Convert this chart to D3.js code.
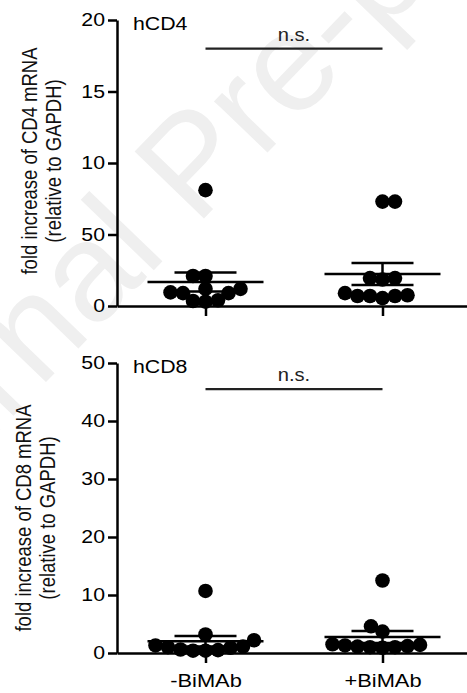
<!DOCTYPE html>
<html>
<head>
<meta charset="utf-8">
<script src="https://cdn.jsdelivr.net/npm/d3@7"></script>
<style>
  body { margin: 0; background: #fff; }
  svg { display: block; font-family: "Liberation Sans", Arial, Helvetica, sans-serif; }
</style>
</head>
<body>
<svg id="chart" width="467" height="693"></svg>
<script>
// values
var groups = ['-BiMAb', '+BiMAb'];
var cd4_minus = [8.1, 2.1, 2.1, 1.2, 1.2, 0.95, 0.9, 0.9, 0.4, 0.35, 0.3];
var cd4_plus = [7.3, 7.3, 1.95, 1.95, 1.85, 0.9, 0.75, 0.7, 0.7, 0.7, 0.55];
var cd8_minus = [10.7, 3.2, 2.2, 1.3, 1.1, 1.0, 0.9, 0.6, 0.5, 0.4, 0.4];
var cd8_plus = [12.5, 4.6, 3.7, 1.5, 1.4, 1.3, 1.2, 1.1, 1.0, 1.0, 0.9];
var cd4_ticks = [0, 5, 10, 15, 20];
var cd4_tick_labels = ['0', '50', '10', '15', '20'];
var cd8_ticks = [0, 10, 20, 30, 40, 50];
var cd8_tick_labels = ['0', '10', '20', '30', '40', '50'];
var panel_titles = ['hCD4', 'hCD8'];
var y_titles = [
    ['fold increase of CD4 mRNA', '(relative to GAPDH)'],
    ['fold increase of CD8 mRNA', '(relative to GAPDH)']
];
var sig_labels = ['n.s.', 'n.s.'];
var sig_values = [18, 45.5];

var sx = 1.15; // the figure's lettering is a bit wide
var dot_r = 7.3;

var svg = d3.select('#chart');

// faint watermark behind everything
svg.append('text')
    .attr('transform', 'translate(-150,585) rotate(-46)')
    .attr('font-size', 140)
    .attr('fill', '#efefef')
    .text('Journal Pre-proof');

var x = d3.scalePoint().domain(groups).range([117, 471]).padding(0.5);

var panels = [
    {series: [cd4_minus, cd4_plus], ticks: cd4_ticks, labels: cd4_tick_labels,
        domain: [0, 20], range: [306, 20], title_x: 37, title_y: 161, show_x: false},
    {series: [cd8_minus, cd8_plus], ticks: cd8_ticks, labels: cd8_tick_labels,
        domain: [0, 50], range: [653, 363], title_x: 31, title_y: 518, show_x: true}
];

// simple beeswarm: lowest values first, nearest free slot to the centre
function swarm(values, y, cx, min_dist) {
    var pts = values.map(function (v) { return {v: v, y: y(v)}; });
    pts.sort(function (a, b) { return b.y - a.y; });
    var placed = [];
    pts.forEach(function (p, i) {
        var sign = i % 2 ? -1 : 1;
        for (var k = 0; k < 400; k++) {
            var off = Math.ceil(k / 2) * 0.5 * (k % 2 ? sign : -sign);
            var ok = placed.every(function (q) {
                var dx = cx + off - q.x, dy = p.y - q.y;
                return dx * dx + dy * dy >= min_dist * min_dist;
            });
            if (ok) { p.x = cx + off; break; }
        }
        placed.push(p);
    });
    return placed;
}

panels.forEach(function (pn, pi) {
    var y = d3.scaleLinear().domain(pn.domain).range(pn.range);
    var g = svg.append('g');

    // y axis
    var ya = g.append('g')
        .attr('transform', 'translate(117,0)')
        .call(d3.axisLeft(y).tickValues(pn.ticks).tickSize(9).tickSizeOuter(0)
            .tickFormat(function (d, i) { return pn.labels[i]; }));
    ya.select('.domain').attr('stroke-width', 2.5).attr('stroke', '#000');
    ya.selectAll('.tick line').attr('stroke-width', 2.5).attr('stroke', '#000');
    ya.selectAll('.tick text')
        .attr('x', -12 / sx)
        .attr('transform', 'scale(' + sx + ',1)')
        .attr('font-size', 18.5)
        .attr('fill', '#000')
        .attr('font-family', null);

    // x axis
    var xa = g.append('g')
        .attr('transform', 'translate(0,' + pn.range[0] + ')')
        .call(d3.axisBottom(x).tickSize(10).tickSizeOuter(0));
    xa.select('.domain').attr('stroke-width', 2.5).attr('stroke', '#000');
    xa.selectAll('.tick line').attr('stroke-width', 2.5).attr('stroke', '#000');
    if (pn.show_x) {
        xa.selectAll('.tick text')
            .attr('y', 34).attr('dy', 0)
            .attr('transform', 'scale(' + sx + ',1)')
            .attr('font-size', 19)
            .attr('fill', '#000')
            .attr('font-family', null);
    } else {
        xa.selectAll('.tick text').remove();
    }

    // panel label
    g.append('text')
        .attr('transform', 'translate(133,' + (pn.range[1] + 10) + ') scale(' + sx + ',1)')
        .attr('font-size', 18.5)
        .attr('fill', '#000')
        .text(panel_titles[pi]);

    // y title, two lines
    var yt = g.append('text')
        .attr('transform', 'translate(' + pn.title_x + ',' + pn.title_y + ') scale(' + sx + ',1) rotate(-90)')
        .attr('text-anchor', 'middle')
        .attr('font-size', 18.5)
        .attr('fill', '#111');
    yt.selectAll('tspan').data(y_titles[pi]).enter().append('tspan')
        .attr('x', 0)
        .attr('y', function (d, i) { return i * 21; })
        .text(function (d) { return d; });

    // significance bar
    var sy = y(sig_values[pi]);
    g.append('line')
        .attr('x1', x(groups[0])).attr('x2', x(groups[1]))
        .attr('y1', sy).attr('y2', sy)
        .attr('stroke', '#222').attr('stroke-width', 2.2);
    g.append('text')
        .attr('transform', 'translate(' + ((x(groups[0]) + x(groups[1])) / 2) + ',' + (sy - 8) + ') scale(' + sx + ',1)')
        .attr('text-anchor', 'middle')
        .attr('font-size', 17.5)
        .attr('fill', '#222')
        .text(sig_labels[pi]);

    // mean +- SEM and dots
    pn.series.forEach(function (vals, gi) {
        var cx = x(groups[gi]);
        var m = d3.mean(vals);
        var sem = d3.deviation(vals) / Math.sqrt(vals.length);
        var eg = g.append('g').attr('stroke', '#000').attr('stroke-width', 2.5);
        eg.append('line').attr('x1', cx - 58).attr('x2', cx + 58).attr('y1', y(m)).attr('y2', y(m));
        eg.append('line').attr('x1', cx).attr('x2', cx).attr('y1', y(m - sem)).attr('y2', y(m + sem));
        [m - sem, m + sem].forEach(function (v) {
            eg.append('line').attr('x1', cx - 31).attr('x2', cx + 31).attr('y1', y(v)).attr('y2', y(v));
        });

        g.append('g').selectAll('circle')
            .data(swarm(vals, y, cx, 12.5))
            .enter().append('circle')
            .attr('cx', function (d) { return d.x; })
            .attr('cy', function (d) { return d.y; })
            .attr('r', dot_r)
            .attr('fill', '#000');
    });
});
</script>
</body>
</html>
